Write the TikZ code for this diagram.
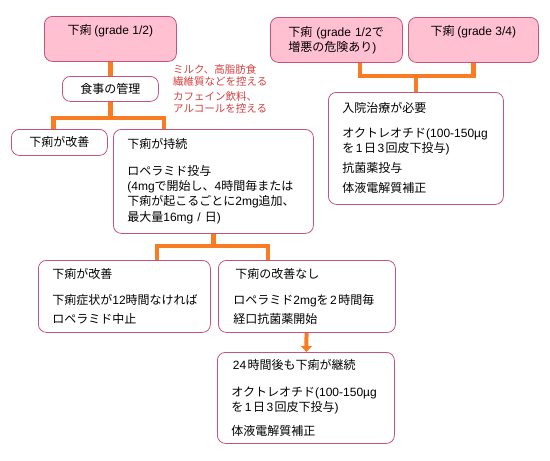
\documentclass[tikz,border=0pt]{standalone}
\usepackage{fontspec}
\setmainfont{Noto Sans CJK JP}
\newfontfamily\latinfont{Liberation Sans}
\newcommand{\lt}[1]{{\latinfont #1}}
\newcommand{\dg}[1]{\kern1.5pt{\latinfont #1}\kern1.5pt}
\usetikzlibrary{arrows.meta}
\definecolor{boxpink}{RGB}{255,192,210}
\definecolor{boxline}{RGB}{196,84,124}
\definecolor{linkorange}{RGB}{250,124,34}
\definecolor{notered}{RGB}{212,64,64}
\tikzset{
  basebox/.style={draw=boxline, line width=0.8pt, rounded corners=8pt, anchor=north west,
    inner xsep=14pt, inner ysep=4pt, font=\fontsize{12}{15}\selectfont},
  gradebox/.style={basebox, fill=boxpink, minimum height=45pt, align=left},
  stepbox/.style={basebox, fill=white, align=left},
  link/.style={draw=linkorange, line width=4.5pt},
  notetext/.style={anchor=north west, inner sep=0pt, text=notered, align=left,
    font=\fontsize{10.5}{12}\selectfont},
}
\begin{document}
\begin{tikzpicture}[x=1pt,y=-1pt]

% Frame
\fill[white] (0,0) rectangle (550,461);
\useasboundingbox (0,0) rectangle (550,461);

% Grades
\node[gradebox, minimum width=132pt, align=center] (g12) at (44,16) {下痢 \lt{(grade 1/2)}\\ \strut};
\node[gradebox, text width=104pt, inner xsep=14pt] (risk) at (270,17) {\hspace*{4pt}下痢 \lt{(grade 1/2}で\\\hspace*{4pt}増悪の危険あり\lt{)}};
\node[gradebox, minimum width=130pt, align=center] (g34) at (408,17) {下痢 \lt{(grade 3/4)}\\ \strut};

% Left branch
\node[stepbox, minimum width=96pt, minimum height=25pt, align=center] (diet) at (62,76) {食事の管理};
\node[notetext] (note) at (173,64) {ミルク、高脂肪食\\繊維質などを控える\\[3.5pt]カフェイン飲料、\\アルコールを控える};
\node[stepbox, minimum width=96pt, minimum height=26pt, align=center] (better1) at (11,129) {下痢が改善};
\node[stepbox, text width=172pt, minimum height=104pt] (persist) at (113,129)
  {下痢が持続\\[12pt]ロペラミド投与\\\lt{(4mg}で開始し、\lt{4}時間毎または\\下痢が起こるごとに\lt{2mg}追加、\\[1pt]最大量\lt{16mg / }日\lt{)}};
\node[stepbox, text width=144pt, minimum height=72pt] (better2) at (38,260)
  {下痢が改善\\[11pt]下痢症状が\lt{12}時間なければ\\[4pt]ロペラミド中止};
\node[stepbox, text width=147pt, minimum height=72pt, inner xsep=15pt] (nobetter) at (218,260)
  {\hspace*{2pt}下痢の改善なし\\[11pt]ロペラミド\lt{2mg}を\dg{2}時間毎\\[4pt]経口抗菌薬開始};
\node[stepbox, text width=149pt, minimum height=91pt] (day) at (217,352)
  {\dg{24}時間後も下痢が継続\\[12pt]オクトレオチド\lt{(100-150µg}\\を\dg{1}日\dg{3}回皮下投与\lt{)}\\[9pt]体液電解質補正};

% Right branch
\node[stepbox, text width=147pt, minimum height=112pt] (rx) at (328,92)
  {入院治療が必要\\[10pt]オクトレオチド\lt{(100-150µg}\\を\dg{1}日\dg{3}回皮下投与\lt{)}\\[5pt]抗菌薬投与\\[5pt]体液電解質補正};

% Connectors
\coordinate (j1) at ([yshift=-16pt]diet.south);
\coordinate (j2) at ([yshift=-12pt]persist.south);
\coordinate (j3) at ([yshift=16pt]rx.north);
\draw[link] (g12) -- (diet);
\draw[link] (diet) -- (j1);
\draw[link] ([xshift=-6pt]better1.north) |- (j1) -| ([xshift=51pt]persist.north west);
\draw[link] (persist) -- (j2);
\draw[link] ([xshift=119pt]better2.north west) |- (j2) -| ([xshift=50pt]nobetter.north west);
\draw[link, line width=4pt, -{Triangle[width=11pt,length=6pt]}] (nobetter) -- (day);
\draw[link] ([xshift=90pt]risk.south west) |- (j3) -| (g34.south);
\draw[link] (j3) -- (rx);

\end{tikzpicture}
\end{document}
